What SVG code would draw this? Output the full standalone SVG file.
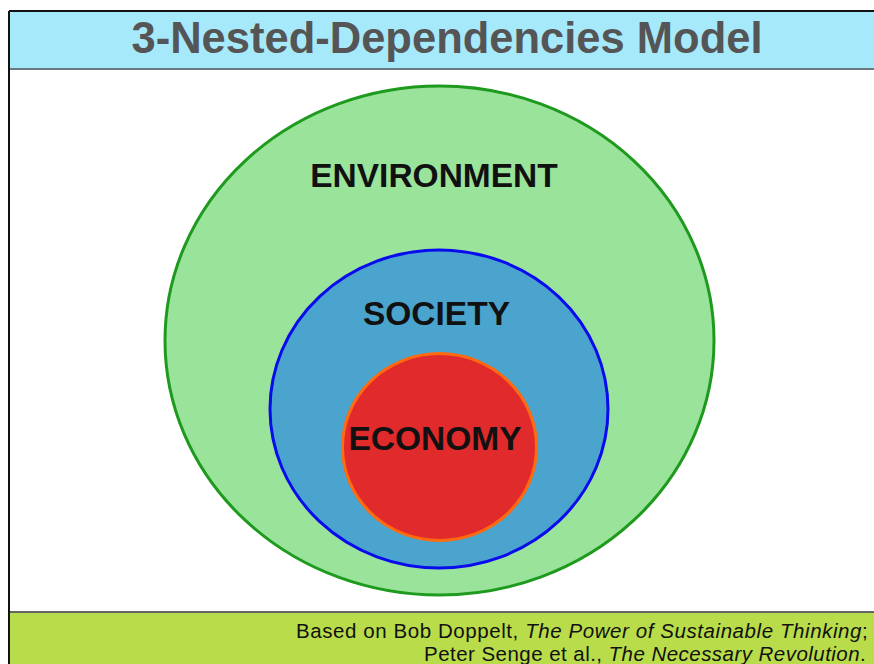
<svg xmlns="http://www.w3.org/2000/svg" width="874" height="664" viewBox="0 0 874 664">
<style>
.lbl{font-family:"Liberation Sans",Arial,sans-serif;font-weight:bold;font-size:33.5px;fill:#111;text-anchor:middle}
.foot{font-family:"Liberation Sans",Arial,sans-serif;font-size:20.5px;letter-spacing:0.3px;fill:#111;text-anchor:end}
</style>
<rect x="0" y="0" width="874" height="664" fill="#fff"/>
<g id="title">
<rect x="9" y="11" width="870" height="58" fill="#A6E9FB"/>
<line x1="9" y1="69" x2="874" y2="69" stroke="#6a7a80" stroke-width="2"/>
<line x1="9" y1="11" x2="874" y2="11" stroke="#111" stroke-width="2"/>
<text x="447" y="53" font-family="'Liberation Sans',Arial,sans-serif" font-weight="bold" font-size="45" fill="#555" text-anchor="middle" textLength="631" lengthAdjust="spacingAndGlyphs">3-Nested-Dependencies Model</text>
</g>
<g id="footer">
<rect x="9" y="612" width="865" height="52" fill="#B9DC4B"/>
<line x1="9" y1="612" x2="874" y2="612" stroke="#666" stroke-width="2"/>
<text class="foot" x="868" y="638" textLength="572" lengthAdjust="spacing">Based on Bob Doppelt, <tspan font-style="italic">The Power of Sustainable Thinking</tspan>;</text>
<text class="foot" x="866" y="661" textLength="442" lengthAdjust="spacing">Peter Senge et al., <tspan font-style="italic">The Necessary Revolution</tspan>.</text>
</g>
<line x1="9" y1="11" x2="9" y2="664" stroke="#111" stroke-width="2"/>
<g id="environment">
<ellipse cx="439.5" cy="340.5" rx="274.5" ry="254.5" fill="#9AE39A" stroke="#1E9A1E" stroke-width="3"/>
<text class="lbl" x="434" y="187">ENVIRONMENT</text>
</g>
<g id="society">
<ellipse cx="439" cy="409" rx="169" ry="159" fill="#4BA4CD" stroke="#0A0AEE" stroke-width="3"/>
<text class="lbl" x="436.5" y="325">SOCIETY</text>
</g>
<g id="economy">
<ellipse cx="439.5" cy="447" rx="97" ry="93.5" fill="#E02A2B" stroke="#FF6A10" stroke-width="3"/>
<text class="lbl" x="435" y="450">ECONOMY</text>
</g>
<g id="connectors"/>
</svg>
